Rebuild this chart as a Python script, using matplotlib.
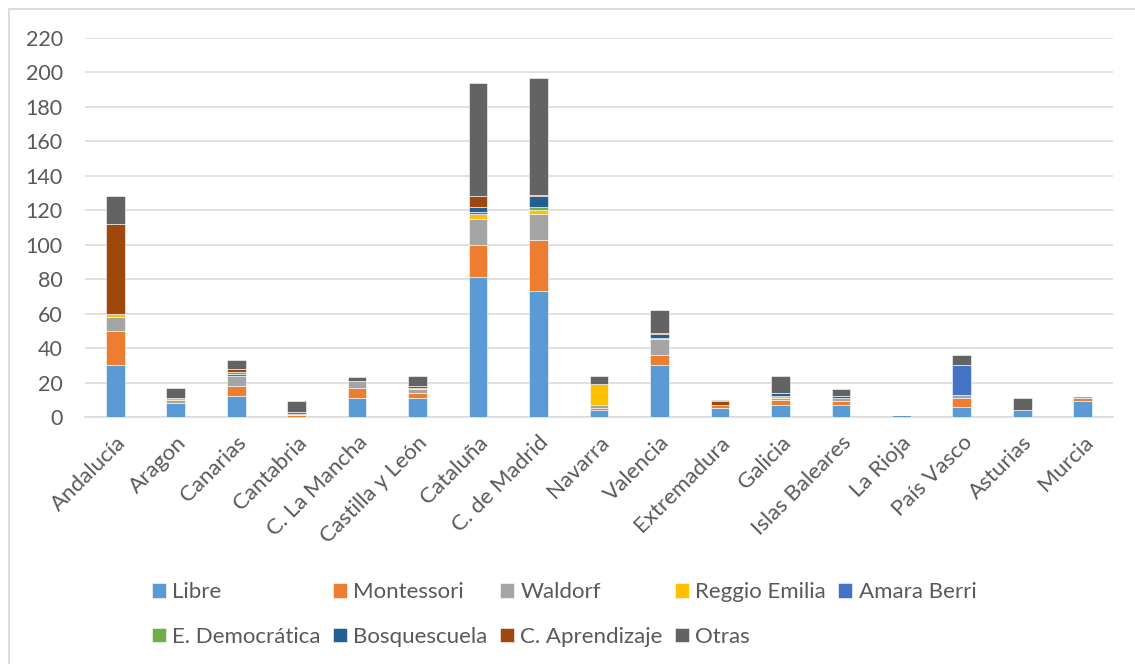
import matplotlib
matplotlib.use("Agg")
import matplotlib.pyplot as plt
import matplotlib.patches as mpatches
import numpy as np

plt.rcParams['font.family'] = ['Lato', 'DejaVu Sans']

regiones = ['Andalucía', 'Aragon', 'Canarias', 'Cantabria', 'C. La Mancha',
            'Castilla y León', 'Cataluña', 'C. de Madrid', 'Navarra', 'Valencia',
            'Extremadura', 'Galicia', 'Islas Baleares', 'La Rioja', 'País Vasco',
            'Asturias', 'Murcia']

libre = [30, 8, 12, 0, 11, 11, 81, 73, 4, 30, 5, 7, 7, 1, 6, 4, 9]
montessori = [20, 0, 6, 1, 6, 3, 19, 30, 1, 6, 2, 3, 2, 0, 5, 0, 2]
waldorf = [8, 2, 6, 0, 4, 2, 15, 15, 2, 9, 0, 1, 2, 0, 2, 0, 1]
reggio = [2, 1, 0, 1, 0, 1, 3, 2, 12, 0, 0, 1, 0, 0, 0, 0, 0]
amara = [0, 0, 1, 1, 0, 0, 1, 0, 0, 0, 0, 0, 0, 0, 17, 0, 0]
democratica = [0, 0, 1, 0, 0, 0, 0, 2, 0, 1, 0, 0, 0, 0, 0, 0, 0]
bosquescuela = [0, 0, 0, 0, 0, 0, 3, 6, 0, 2, 0, 2, 1, 0, 0, 0, 0]
aprendizaje = [52, 0, 2, 0, 0, 1, 6, 1, 0, 1, 2, 0, 0, 0, 0, 0, 0]
otras = [16, 6, 5, 6, 2, 6, 66, 68, 5, 13, 1, 10, 4, 0, 6, 7, 0]

series = ['Libre', 'Montessori', 'Waldorf', 'Reggio Emilia', 'Amara Berri',
          'E. Democrática', 'Bosquescuela', 'C. Aprendizaje', 'Otras']
valores = [libre, montessori, waldorf, reggio, amara, democratica,
           bosquescuela, aprendizaje, otras]
colores = ['#5B9BD5', '#ED7D31', '#A5A5A5', '#FFC000', '#4472C4',
           '#70AD47', '#255E91', '#9E480E', '#636363']

W, H = 1135, 664
fig = plt.figure(figsize=(W / 100, H / 100), dpi=100)
ax = fig.add_axes([85 / W, 1 - 417 / H, (1113 - 85) / W, (417 - 38) / H])

x = np.arange(len(regiones))
base = np.zeros(len(regiones))
barras = []
for nombre, vals, col in zip(series, valores, colores):
    b = ax.bar(x, vals, 0.31, bottom=base, color=col, edgecolor='white',
               linewidth=0.4, label=nombre, zorder=3)
    barras.append(b)
    base += np.array(vals)

ax.set_xlim(-0.5, len(regiones) - 0.5)
ax.set_ylim(0, 220)
ax.set_yticks(np.arange(0, 221, 20))
ax.grid(axis='y', color='#D9D9D9', linewidth=1.1, zorder=0)
for s in ['top', 'right', 'left']:
    ax.spines[s].set_visible(False)
ax.spines['bottom'].set_color('#D9D9D9')
ax.spines['bottom'].set_linewidth(1.1)
ax.tick_params(axis='both', length=0, colors='#595959')
ax.tick_params(axis='y', pad=16, labelsize=15.5)
ax.set_xticks(x)
ax.set_xticklabels(regiones, rotation=45, ha='right', va='top',
                   rotation_mode='anchor')
ax.tick_params(axis='x', pad=11, labelsize=16)

# orden para que la leyenda quede como en el original (filas de 5 + 4)
orden = [0, 5, 1, 6, 2, 7, 3, 8, 4]
fig.legend([barras[i] for i in orden], [series[i] for i in orden],
           loc='center', bbox_to_anchor=(0.497, 1 - 614.5 / H), ncol=5,
           frameon=False, fontsize=16, labelcolor='#595959',
           handlelength=0.62, handleheight=0.62, handletextpad=0.3,
           columnspacing=0.55, labelspacing=1.1)

# borde del area del grafico
fig.patches.append(mpatches.Rectangle((9 / W, -0.1), 2, 1 - 9 / H + 0.1,
                                      transform=fig.transFigure, fill=False,
                                      edgecolor='#D9D9D9', linewidth=1.3))

fig.savefig('out.png', dpi=100)
